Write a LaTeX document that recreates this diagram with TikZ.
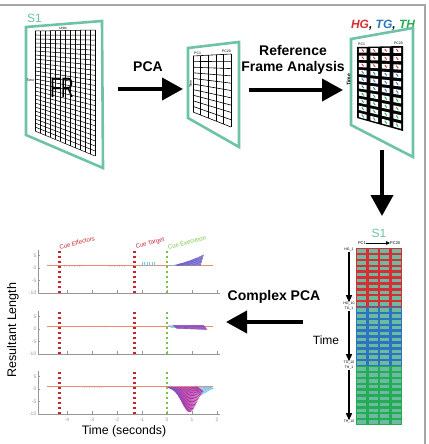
\documentclass[tikz,border=0pt]{standalone}
\usepackage{fontspec}
\setmainfont{Liberation Sans}
\usetikzlibrary{arrows.meta,positioning,calc}
\definecolor{frameteal}{RGB}{110,194,165}
\definecolor{cellteal}{RGB}{108,186,160}
\definecolor{hgred}{RGB}{214,46,52}
\definecolor{tgblue}{RGB}{44,116,192}
\definecolor{thgreen}{RGB}{36,172,84}
\definecolor{cuered}{RGB}{200,36,48}
\definecolor{cuegreen}{RGB}{112,196,72}
\definecolor{axgray}{RGB}{150,150,150}
\definecolor{baseorange}{RGB}{234,140,112}
\definecolor{wpurple}{RGB}{112,92,200}
\definecolor{wmagenta}{RGB}{176,56,166}
\definecolor{wlight}{RGB}{120,196,236}

\begin{document}
\begin{tikzpicture}[x=1pt, y=-1pt, >=Latex, every node/.style={inner sep=0pt}]
\tikzstyle{pane}=[draw=frameteal, line width=2.6pt]
\tikzstyle{bigarrow}=[line width=4pt, -{Triangle[length=21pt,width=22pt]}]
\tikzstyle{lbl}=[font=\fontsize{14}{16.5}\selectfont\bfseries, align=center]
\tikzstyle{tiny}=[font=\fontsize{3.5}{3.5}\selectfont]
\tikzstyle{tick}=[font=\fontsize{5}{5}\selectfont, text=axgray]
\tikzstyle{cue}=[line width=2.4pt, dash pattern=on 2.4pt off 2.6pt]
\tikzstyle{timearrow}=[line width=1.3pt, -{Triangle[length=7pt,width=6pt]}]
\useasboundingbox (0,0) rectangle (428,444);
\draw[gray!70, line width=1.3pt] (0,5) -- (425,5) -- (425,444);

% firing rates of S1
\coordinate (f1a) at (26,27); \coordinate (f1b) at (102,21);
\coordinate (f1c) at (103,168); \coordinate (f1d) at (26,135);
\draw[pane] (f1a) -- (f1b) -- (f1c) -- (f1d) -- cycle;
\node[text=frameteal, font=\fontsize{12}{12}\selectfont, anchor=base west] (s1top) at (27,23) {S1};
\coordinate (g1a) at (35,31); \coordinate (g1b) at (95,30);
\coordinate (g1c) at (95,156); \coordinate (g1d) at (35,131);
\foreach \i in {0,...,12} \draw[line width=0.5pt] ($(g1a)!\i/12!(g1b)$) -- ($(g1d)!\i/12!(g1c)$);
\foreach \j in {0,...,25} \draw[line width=0.5pt] ($(g1a)!\j/25!(g1d)$) -- ($(g1b)!\j/25!(g1c)$);
\node[tiny, anchor=south] (units) at (63,29.5) {Units};
\node[tiny, anchor=east] (time1) at (34.5,80) {Time};
\node[font=\fontsize{28}{28}\selectfont, xscale=0.62] (fr) at (62,88) {FR};

% PCA
\node[lbl] (pca) at (148,67) {PCA};
\coordinate (a1s) at (118,89); \coordinate (a1e) at (183,89);
\draw[bigarrow] (a1s) -- (a1e);

% principal components
\coordinate (f2a) at (188,48); \coordinate (f2b) at (239,42);
\coordinate (f2c) at (239,147); \coordinate (f2d) at (188,118);
\draw[pane] (f2a) -- (f2b) -- (f2c) -- (f2d) -- cycle;
\coordinate (g2a) at (193,56); \coordinate (g2b) at (231,54);
\coordinate (g2c) at (231,127); \coordinate (g2d) at (193,112);
\foreach \i in {0,...,5} \draw[line width=0.6pt] ($(g2a)!\i/5!(g2b)$) -- ($(g2d)!\i/5!(g2c)$);
\foreach \j in {0,...,10} \draw[line width=0.6pt] ($(g2a)!\j/10!(g2d)$) -- ($(g2b)!\j/10!(g2c)$);
\node[tiny, anchor=south west] (pc1b) at (194,54.5) {PC1};
\node[tiny, anchor=south east] (pc20b) at (231,52.5) {PC20};
\node[tiny, rotate=90] (time2) at (190.5,84) {Time};

% reference frame analysis
\node[lbl] (rfa) at (293,60) {Reference\\Frame Analysis};
\coordinate (a2s) at (249,90); \coordinate (a2e) at (343,90);
\draw[bigarrow] (a2s) -- (a2e);

% reference frames
\node[font=\fontsize{12}{12}\selectfont\bfseries\itshape] (rois) at (383,25)
  {\textcolor{hgred}{HG}, \textcolor{tgblue}{TG}, \textcolor{thgreen}{TH}};
\coordinate (f3a) at (351,39); \coordinate (f3b) at (413,28);
\coordinate (f3c) at (413,157); \coordinate (f3d) at (351,125);
\draw[pane] (f3a) -- (f3b) -- (f3c) -- (f3d) -- cycle;
\coordinate (g3a) at (357,47); \coordinate (g3b) at (403,46);
\coordinate (g3c) at (403,131); \coordinate (g3d) at (357,118);
\fill (g3a) -- (g3b) -- (g3c) -- (g3d) -- cycle;
\foreach \j/\c in {0/hgred,1/hgred,2/hgred,3/tgblue,4/tgblue,5/tgblue,6/thgreen,7/thgreen,8/thgreen,9/thgreen}
\foreach \i in {0,...,3} {
  \pgfmathsetmacro\ua{(\i+0.17)/4} \pgfmathsetmacro\ub{(\i+0.83)/4}
  \pgfmathsetmacro\va{(\j+0.2)/10} \pgfmathsetmacro\vb{(\j+0.8)/10}
  \pgfmathsetmacro\uc{(\i+0.5)/4} \pgfmathsetmacro\vc{(\j+0.35)/10} \pgfmathsetmacro\vd{(\j+0.65)/10}
  \fill[white] ($ ($(g3a)!\ua!(g3b)$) !\va! ($(g3d)!\ua!(g3c)$) $) -- ($ ($(g3a)!\ub!(g3b)$) !\va! ($(g3d)!\ub!(g3c)$) $)
    -- ($ ($(g3a)!\ub!(g3b)$) !\vb! ($(g3d)!\ub!(g3c)$) $) -- ($ ($(g3a)!\ua!(g3b)$) !\vb! ($(g3d)!\ua!(g3c)$) $) -- cycle;
  \draw[\c, line width=0.9pt] ($ ($(g3a)!\uc-0.02!(g3b)$) !\vc! ($(g3d)!\uc-0.02!(g3c)$) $) -- ($ ($(g3a)!\uc+0.02!(g3b)$) !\vd! ($(g3d)!\uc+0.02!(g3c)$) $);
}
\node[tiny, anchor=south west] (pc1c) at (358,45.5) {PC1};
\node[tiny, anchor=south east] (pc20c) at (403,45) {PC20};
\node[font=\fontsize{5}{5}\selectfont\bfseries, rotate=90] (time3) at (348.5,80) {Time};

\coordinate (a3s) at (382,150); \coordinate (a3e) at (382,216);
\draw[bigarrow] (a3s) -- (a3e);

% stacked reference frames of S1
\node[text=frameteal, font=\fontsize{12}{12}\selectfont] (s1bot) at (379,233) {S1};
\node[font=\fontsize{4}{4}\selectfont, anchor=east] (pc1d) at (366,243) {PC1};
\node[font=\fontsize{4}{4}\selectfont, anchor=west] (pc20d) at (390,243) {PC20};
\draw[line width=0.7pt, -{Triangle[length=4pt,width=3.5pt]}] (pc1d) -- (pc20d);
\foreach \k/\c in {0/hgred,1/tgblue,2/thgreen} {
  \fill[\c] (356,{248+59*\k}) rectangle (402,{248+59*(\k+1)});
  \foreach \cc in {0,...,3} \foreach \r in {0,...,9}
    \fill[cellteal] ({356+11.5*\cc+1.4},{248+59*\k+5.9*\r+1.2}) rectangle ({356+11.5*(\cc+1)-1.4},{248+59*\k+5.9*(\r+1)-1.2});
}
\node[tiny] (hg1) at (349,250) {HG\_1};
\node[tiny] (hg10) at (349,304) {HG\_10};
\node[tiny] (tg1) at (349,309) {TG\_1};
\node[tiny] (tg10) at (349,363) {TG\_10};
\node[tiny] (th1) at (349,368) {TH\_1};
\node[tiny] (th10) at (349,422) {TH\_10};
\draw[timearrow] (hg1) -- (hg10);
\draw[timearrow] (tg1) -- (tg10);
\draw[timearrow] (th1) -- (th10);
\node[font=\fontsize{12}{12}\selectfont] (timeS) at (326,340) {Time};

% complex PCA
\node[lbl] (cpca) at (274,297) {Complex PCA};
\coordinate (a4s) at (303,322); \coordinate (a4e) at (226,322);
\draw[bigarrow] (a4s) -- (a4e);

% resultant lengths
\node[font=\fontsize{12.5}{12.5}\selectfont, rotate=90] (ylab) at (13,330) {Resultant Length};
\node[font=\fontsize{12.3}{12.3}\selectfont] (xlab) at (124,431) {Time (seconds)};
\foreach \yz [count=\k] in {268,329,389} {
  \begin{scope}[xshift=167pt, yshift=-\yz pt, x=25pt, y=2.5pt]
    \draw[axgray, line width=0.5pt] (-5.16,7.2) -- (-5.16,-10) -- (2.12,-10);
    \foreach \v [count=\n] in {5,0,-5,-10} {
      \draw[axgray, line width=0.5pt] (-5.16,\v) -- (-5.08,\v);
      \node[tick, anchor=east] (yt\k\n) at (-5.22,\v) {\v};
    }
    \foreach \t in {-4,...,2} \draw[axgray, line width=0.5pt] (\t,-10) -- (\t,-8.8);
    \draw[baseorange, line width=0.6pt] (-4.8,1) -- (1.85,1);
  \end{scope}
}
% top: cue labels and rising fan
\begin{scope}[xshift=167pt, yshift=-268pt, x=25pt, y=2.5pt]
  \foreach \t in {-4.1,-4.0,...,-3.3} \fill[axgray!70] (\t,0.6) circle (0.3pt);
  \foreach \t in {-2.3,-2.2,...,-1.6} \fill[axgray!70] (\t,0.6) circle (0.3pt);
  \foreach \t in {-1.0,-0.9,...,-0.45} \draw[wlight, line width=0.45pt] (\t,1) -- (\t,2.6);
  \foreach \t in {0.15,0.2,...,1.35} \draw[wlight, line width=0.5pt] (\t,1) -- ({\t+0.1},{1+3.6*((\t-0.1)/1.25)^1.2});
  \foreach \t in {0.35,0.385,...,1.34} \draw[wpurple, line width=0.6pt] (\t,1) -- ({\t+0.13},{1+4.4*((\t-0.1)/1.25)^1.3});
  \node[font=\fontsize{6}{6}\selectfont, text=cuered, rotate=15, anchor=south west] (ceff) at (-4.28,7.2) {Cue Effectors};
  \node[font=\fontsize{6}{6}\selectfont, text=cuered, rotate=15, anchor=south west] (ctgt) at (-1.22,7.2) {Cue Target};
  \node[font=\fontsize{6}{6}\selectfont, text=cuegreen, rotate=15, anchor=south west] (cexe) at (0.06,7.2) {Cue Execution};
\end{scope}
% middle: thin band
\begin{scope}[xshift=167pt, yshift=-329pt, x=25pt, y=2.5pt]
  \foreach \t in {-3.4,-3.3,...,-2.4} \fill[wlight!70] (\t,0.4) circle (0.3pt);
  \foreach \t in {0.05,0.09,...,0.3} \draw[wlight, line width=0.55pt] (\t,1.4) -- ({\t+0.15},0.4);
  \foreach \t in {0.25,0.28,...,1.45} \draw[wpurple!55!wmagenta, line width=0.6pt] (\t,1.6) -- ({\t+0.15},{0.3-0.6*(\t/1.45)});
\end{scope}
% bottom: falling fan and time ticks
\begin{scope}[xshift=167pt, yshift=-389pt, x=25pt, y=2.5pt]
  \foreach \t in {-3.3,-3.2,...,-2.5} \fill[axgray!70] (\t,0.6) circle (0.3pt);
  \foreach \t in {1.1,1.14,...,1.66} {
    \pgfmathsetmacro\d{(\t-1.05)/0.45}
    \draw[wlight, line width=0.7pt] (\t,0.8) -- ({\t+0.22},{0.8-3.4*exp(-(\d)*(\d))});
  }
  \foreach \t in {0,0.03,...,1.2} {
    \pgfmathsetmacro\d{(\t+0.25-0.9)/0.42}
    \pgfmathsetmacro\p{max(0,min(100,100-\t*160))}
    \draw[wpurple!\p!wmagenta, line width=0.8pt] (\t,0.8) -- ({\t+0.25},{0.8-10*exp(-(\d)*(\d))});
  }
  \foreach \t [count=\n] in {-4,...,2} \node[tick, anchor=north] (xt\n) at (\t,-11.4) {\t};
\end{scope}
% cue lines over everything
\foreach \yz in {268,329,389} {
  \begin{scope}[xshift=167pt, yshift=-\yz pt, x=25pt, y=2.5pt]
    \draw[cue, cuered] (-4.3,6.8) -- (-4.3,-10);
    \draw[cue, cuered] (-1.3,6.8) -- (-1.3,-10);
    \draw[cue, cuegreen] (0,6.8) -- (0,-10);
  \end{scope}
}
\end{tikzpicture}
\end{document}
